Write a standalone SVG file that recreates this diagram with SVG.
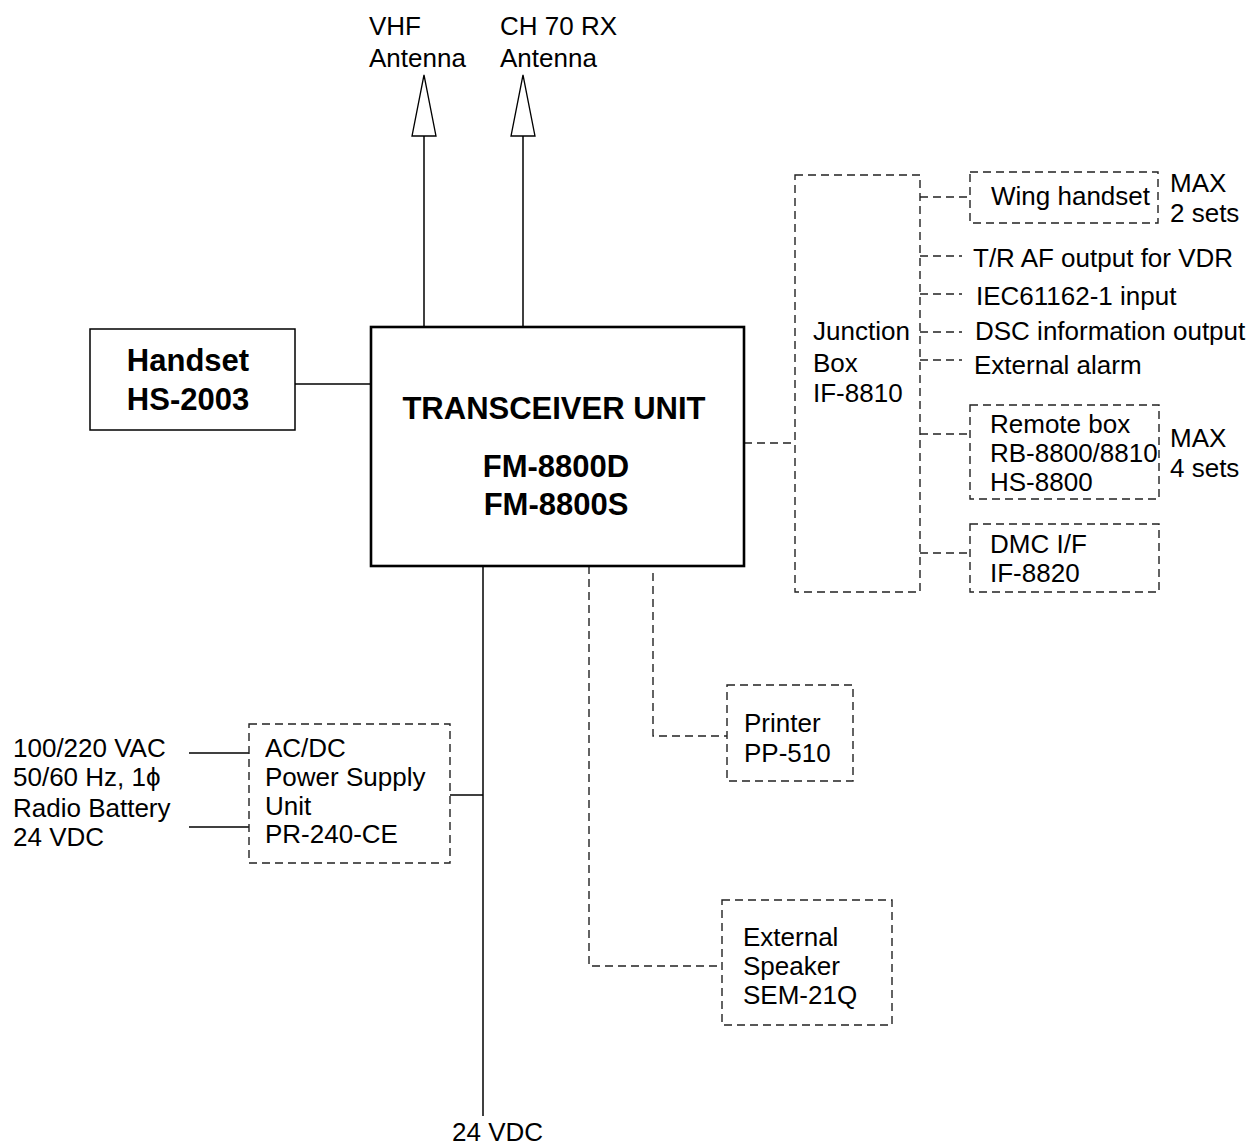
<svg xmlns="http://www.w3.org/2000/svg" width="1255" height="1147" viewBox="0 0 1255 1147">
<style>
text{font-family:"Liberation Sans",Arial,sans-serif;font-size:26px;fill:#000}
.b{font-weight:bold;font-size:31px}
.solid{fill:none;stroke:#000;stroke-width:1.5}
.dash{fill:none;stroke:#222;stroke-width:1.4;stroke-dasharray:8 5}
.main{fill:#fff;stroke:#000;stroke-width:2.6}
.ant{fill:#fff;stroke:#000;stroke-width:1.3}
</style>
<rect width="1255" height="1147" fill="#fff"/>
<g id="connectors">
<line class="solid" x1="424" y1="136" x2="424" y2="327"/>
<line class="solid" x1="523" y1="136" x2="523" y2="327"/>
<line class="solid" x1="295" y1="384" x2="371" y2="384"/>
<line class="solid" x1="483" y1="566" x2="483" y2="1116"/>
<line class="solid" x1="450" y1="795" x2="483" y2="795"/>
<line class="solid" x1="189" y1="753" x2="249" y2="753"/>
<line class="solid" x1="189" y1="827" x2="249" y2="827"/>
<path class="dash" d="M744 443H795"/>
<path class="dash" d="M589 566V966H722"/>
<path class="dash" d="M653 573V736H727"/>
<path class="dash" d="M920 197H970"/>
<path class="dash" d="M920 256H962"/>
<path class="dash" d="M920 294H962"/>
<path class="dash" d="M920 332H962"/>
<path class="dash" d="M920 360H962"/>
<path class="dash" d="M920 434H970"/>
<path class="dash" d="M920 553H970"/>
</g>
<g id="vhf-antenna">
<polygon class="ant" points="424,75 412,136 436,136"/>
<text x="369" y="35">VHF</text>
<text x="369" y="67">Antenna</text>
</g>
<g id="ch70-antenna">
<polygon class="ant" points="523,75 511,136 535,136"/>
<text x="500" y="35">CH 70 RX</text>
<text x="500" y="67">Antenna</text>
</g>
<g id="handset">
<rect class="solid" x="90" y="329" width="205" height="101"/>
<text class="b" x="188" y="371" text-anchor="middle">Handset</text>
<text class="b" x="188" y="410" text-anchor="middle">HS-2003</text>
</g>
<g id="transceiver">
<rect class="main" x="371" y="327" width="373" height="239"/>
<text class="b" x="554" y="419" text-anchor="middle">TRANSCEIVER UNIT</text>
<text class="b" x="556" y="477" text-anchor="middle">FM-8800D</text>
<text class="b" x="556" y="515" text-anchor="middle">FM-8800S</text>
</g>
<g id="junction-box">
<rect class="dash" x="795" y="175" width="125" height="417"/>
<text x="813" y="340">Junction</text>
<text x="813" y="372">Box</text>
<text x="813" y="402">IF-8810</text>
</g>
<g id="wing-handset">
<rect class="dash" x="970" y="172" width="188" height="51"/>
<text x="991" y="205">Wing handset</text>
<text x="1170" y="192">MAX</text>
<text x="1170" y="222">2 sets</text>
</g>
<g id="outputs">
<text x="973" y="267">T/R AF output for VDR</text>
<text x="976" y="305">IEC61162-1 input</text>
<text x="975" y="340">DSC information output</text>
<text x="974" y="374">External alarm</text>
</g>
<g id="remote-box">
<rect class="dash" x="970" y="405" width="189" height="94"/>
<text x="990" y="433">Remote box</text>
<text x="990" y="462">RB-8800/8810</text>
<text x="990" y="491">HS-8800</text>
<text x="1170" y="447">MAX</text>
<text x="1170" y="477">4 sets</text>
</g>
<g id="dmc">
<rect class="dash" x="970" y="524" width="189" height="68"/>
<text x="990" y="553">DMC I/F</text>
<text x="990" y="582">IF-8820</text>
</g>
<g id="printer">
<rect class="dash" x="727" y="685" width="126" height="96"/>
<text x="744" y="732">Printer</text>
<text x="744" y="762">PP-510</text>
</g>
<g id="speaker">
<rect class="dash" x="722" y="900" width="170" height="125"/>
<text x="743" y="946">External</text>
<text x="743" y="975">Speaker</text>
<text x="743" y="1004">SEM-21Q</text>
</g>
<g id="psu">
<rect class="dash" x="249" y="724" width="201" height="139"/>
<text x="265" y="757">AC/DC</text>
<text x="265" y="786">Power Supply</text>
<text x="265" y="815">Unit</text>
<text x="265" y="843">PR-240-CE</text>
</g>
<g id="sources">
<text x="13" y="757">100/220 VAC</text>
<text x="13" y="786">50/60 Hz, 1ϕ</text>
<text x="13" y="817">Radio Battery</text>
<text x="13" y="846">24 VDC</text>
</g>
<g id="dc-out">
<text x="452" y="1141">24 VDC</text>
</g>
</svg>
